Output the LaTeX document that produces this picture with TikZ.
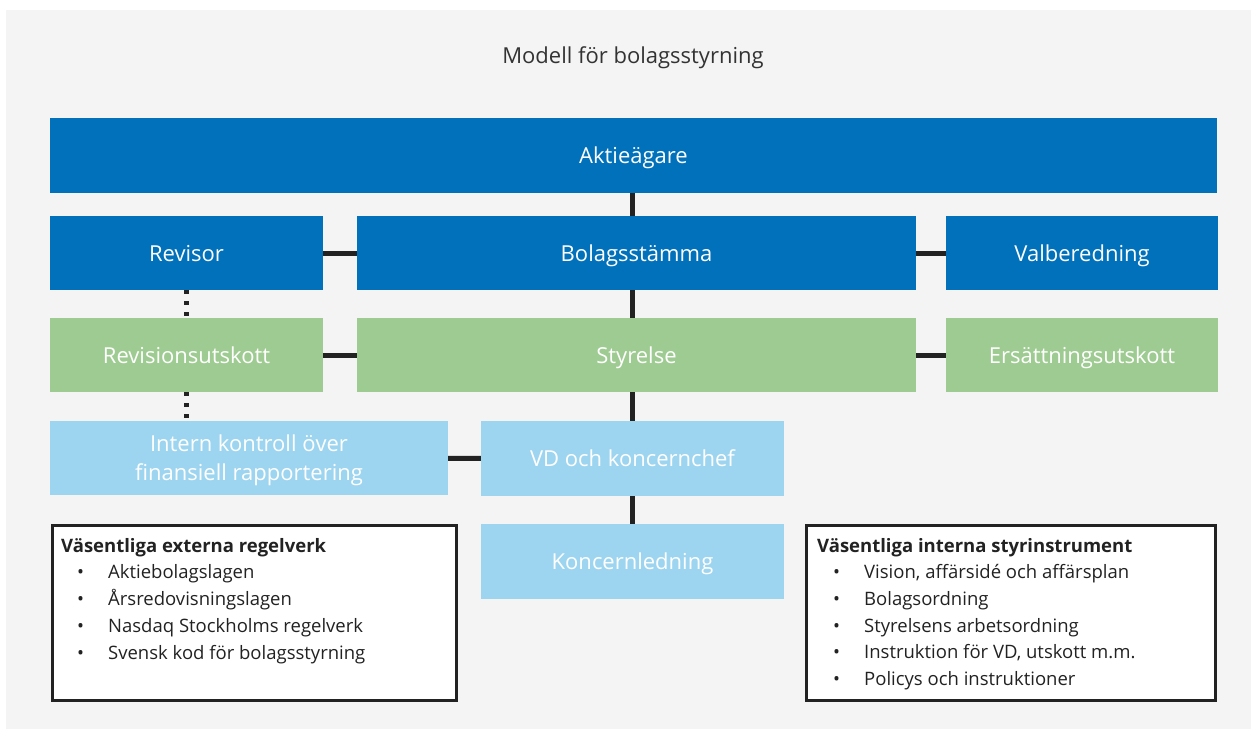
\documentclass[tikz,border=0pt]{standalone}
\usepackage{fontspec}
\setmainfont{Open Sans}
\usetikzlibrary{positioning}
\definecolor{bgGray}{RGB}{244,244,244}
\definecolor{ownBlue}{RGB}{0,113,186}
\definecolor{brdGreen}{RGB}{158,203,145}
\definecolor{mgmtBlue}{RGB}{157,213,240}
\definecolor{lineBlack}{RGB}{34,34,34}
\definecolor{titleGray}{RGB}{51,51,51}
\tikzset{%
	block/.style    = {rectangle, inner sep=0pt, text=white, align=center,
		text height=16pt, text depth=0pt, font=\fontsize{22}{29}\selectfont},
	owner/.style    = {block, fill=ownBlue}, % Aktieägare, stämma
	board/.style    = {block, fill=brdGreen}, % Styrelse
	mgmt/.style     = {block, fill=mgmtBlue}, % Ledning
	link/.style     = {draw=lineBlack, line width=5pt},
	dotlink/.style  = {link, dash pattern=on 4pt off 7pt},
	listbox/.style  = {draw=lineBlack, line width=3pt, fill=white, inner sep=0pt},
	listtext/.style = {text=lineBlack, align=left, inner sep=0pt,
		font=\fontsize{18.5}{26.7}\selectfont}
}
\newcommand{\listpoint}[1]{\makebox[47pt][l]{\hspace{16pt}\textbullet}#1}

\begin{document}
\begin{tikzpicture}[x=1pt,y=-1pt]
	\useasboundingbox (0,0) rectangle (1251,729);
	\fill[bgGray] (6,10) rectangle (1251,729);

	\node[text=titleGray, anchor=base, font=\fontsize{22}{29}\selectfont] (title) at (633,63) {Modell för bolagsstyrning};

	\node[owner, minimum width=1167, minimum height=75] (aktie) at (633.5,155.5) {Aktieägare};
	\node[owner, minimum width=273, minimum height=74] (revisor) at (186.5,253) {Revisor};
	\node[owner, minimum width=559, minimum height=74] (stamma) at (636.5,253) {Bolagsstämma};
	\node[owner, minimum width=272, minimum height=74] (valb) at (1082,253) {Valberedning};

	\node[board, minimum width=273, minimum height=74] (revutsk) at (186.5,355) {Revisionsutskott};
	\node[board, minimum width=559, minimum height=74] (styrelse) at (636.5,355) {Styrelse};
	\node[board, minimum width=272, minimum height=74] (ersutsk) at (1082,355) {Ersättningsutskott};

	\node[mgmt, text height=45pt, minimum width=398, minimum height=74] (intern) at (249,458) {Intern kontroll över\\finansiell rapportering};
	\node[mgmt, minimum width=303, minimum height=75] (vd) at (632.5,458.5) {VD och koncernchef};
	\node[mgmt, minimum width=303, minimum height=75] (koncern) at (632.5,561.5) {Koncernledning};

	\node[listbox, minimum width=404, minimum height=175] (extbox) at (254.5,613) {};
	\node[listbox, minimum width=409, minimum height=175] (intbox) at (1011,613) {};
	% base anchor sits on the last line
	\node[listtext, anchor=base west] (extlist) at (61,659) {\textbf{Väsentliga externa regelverk}\\
		\listpoint{Aktiebolagslagen}\\
		\listpoint{Årsredovisningslagen}\\
		\listpoint{Nasdaq Stockholms regelverk}\\
		\listpoint{Svensk kod för bolagsstyrning}};
	\node[listtext, anchor=base west] (intlist) at (817,685.5) {\textbf{Väsentliga interna styrinstrument}\\
		\listpoint{Vision, affärsidé och affärsplan}\\
		\listpoint{Bolagsordning}\\
		\listpoint{Styrelsens arbetsordning}\\
		\listpoint{Instruktion för VD, utskott m.m.}\\
		\listpoint{Policys och instruktioner}};

	\draw[link] (aktie.south -| vd) -- (stamma.north -| vd);
	\draw[link] (stamma.south -| vd) -- (styrelse.north -| vd);
	\draw[link] (styrelse.south -| vd) -- (vd.north);
	\draw[link] (vd) -- (koncern);
	\draw[link] (revisor) -- (stamma);
	\draw[link] (stamma) -- (valb);
	\draw[link] (revutsk) -- (styrelse);
	\draw[link] (styrelse) -- (ersutsk);
	\draw[link] (intern) -- (vd);
	\draw[dotlink] (revisor) -- (revutsk);
	\draw[dotlink] (revutsk.south) -- (revutsk.south |- intern.north);
\end{tikzpicture}
\end{document}
